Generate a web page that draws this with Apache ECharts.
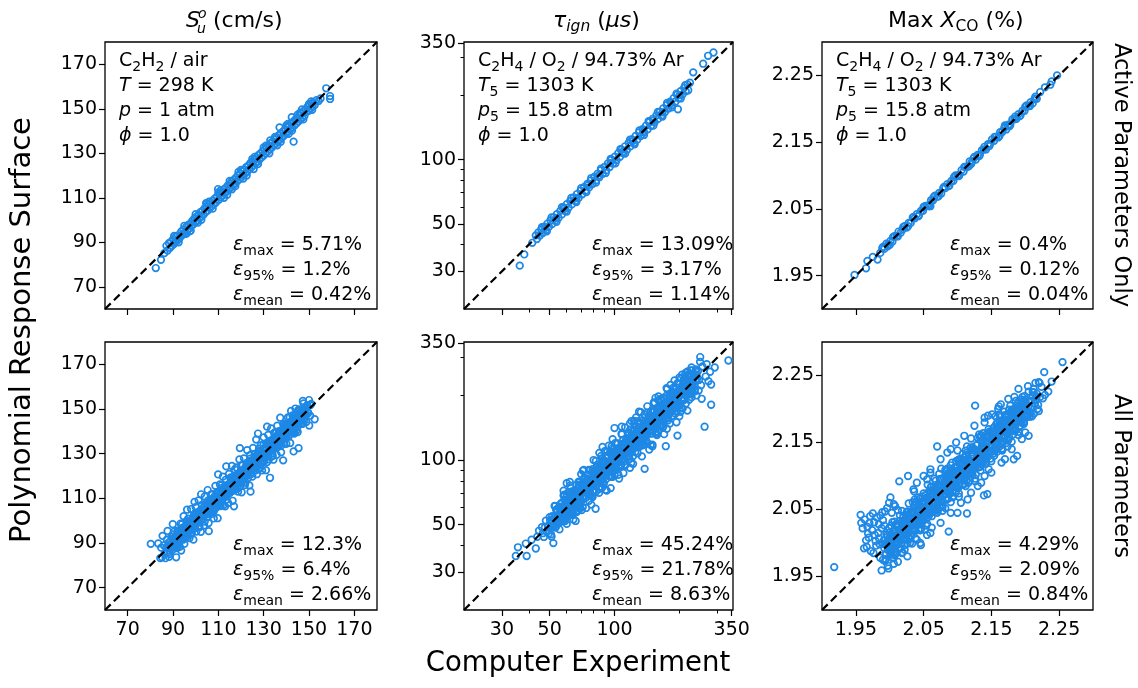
<!DOCTYPE html>
<html>
<head>
<meta charset="utf-8">
<script src="https://cdn.jsdelivr.net/npm/echarts@6/dist/echarts.min.js"></script>
<style>
html,body{margin:0;padding:0;background:#fff;}
#chart{width:1138px;height:688px;}
</style>
</head>
<body>
<div id="chart"></div>
<script>
// ---- surrogate vs. computer experiment samples ----
// laminar flame speed S_u (cm/s), active parameters only
const suActive = [
[82.4,78.4],[84.7,82.1],[86.2,85.1],[87.1,88.4],[87.6,86.3],[88.2,89.6],[88.7,87.5],[89.1,90.2],[89.5,88.4],[90.0,91.3],[90.4,89.2],[90.9,90.1],[91.3,92.6],[91.8,90.7],[92.2,93.1],[92.7,91.6],[93.1,92.2],[93.6,94.8],[94.0,93.1],[94.5,95.6],[94.9,94.2],[95.4,93.8],[95.8,96.9],[96.3,95.4],[96.7,97.8],[97.2,96.1],[97.6,98.4],[98.1,97.3],[98.5,99.6],[99.0,98.1],[99.4,100.7],[99.9,99.2],[100.3,101.4],[100.8,99.6],[101.2,102.3],[101.7,100.9],[102.1,103.5],[102.6,101.7],[103.0,104.1],[103.5,102.4],[103.9,105.2],[104.4,103.6],[104.8,106.0],[105.3,104.2],[105.7,106.9],[106.2,105.4],[106.6,107.6],[107.1,106.3],[107.5,108.7],[108.0,107.0],[108.4,109.6],[108.9,107.8],[109.3,110.4],[109.9,113.9],[110.2,109.1],[110.6,111.8],[111.1,110.2],[111.5,112.5],[112.0,111.1],[112.4,113.7],[112.9,112.0],[113.3,114.4],[113.8,112.9],[114.2,115.5],[114.7,113.8],[115.1,116.3],[115.6,114.7],[116.0,117.4],[116.5,115.6],[116.9,118.1],[117.4,116.3],[117.8,119.0],[118.3,117.4],[118.7,120.1],[119.2,118.3],[119.6,120.8],[120.1,119.2],[120.5,121.9],[121.0,120.1],[121.4,122.6],[121.9,121.0],[122.3,123.7],[122.8,121.8],[123.2,124.4],[123.7,122.9],[124.1,125.5],[124.6,123.7],[125.0,126.2],[125.5,124.6],[125.9,127.3],[126.4,125.5],[126.8,128.0],[127.3,126.2],[127.7,129.1],[128.2,127.3],[128.6,129.9],[129.1,128.2],[129.5,130.8],[130.0,129.0],[130.4,131.7],[130.9,130.0],[131.3,132.6],[131.8,130.9],[132.2,133.4],[132.7,131.8],[133.1,134.5],[133.6,132.6],[134.0,135.2],[134.5,133.6],[134.9,136.3],[135.4,134.4],[135.8,137.0],[136.3,135.3],[136.7,138.1],[137.0,141.6],[137.2,136.2],[137.6,138.9],[138.1,137.1],[138.5,139.8],[139.0,137.9],[139.4,140.6],[139.9,138.8],[140.3,141.7],[140.8,139.8],[141.2,142.3],[141.7,140.6],[142.4,146.2],[142.1,143.4],[142.6,141.5],[143.2,135.2],[143.0,144.2],[143.5,142.4],[143.9,145.1],[144.4,143.3],[144.8,146.0],[145.3,144.2],[145.7,146.9],[146.2,145.1],[146.6,147.8],[147.1,146.0],[147.5,148.9],[148.0,146.8],[148.4,149.5],[148.9,148.6],[149.3,150.8],[149.8,149.1],[150.2,151.4],[150.7,150.1],[151.1,152.3],[151.6,151.0],[152.0,152.9],[152.5,151.6],[153.3,153.9],[154.2,153.5],[157.6,159.2],[159.3,155.7],[159.3,154.4],[155.1,154.6],[151.4,149.5],[146.9,149.7],[104.6,107.6],[97.8,95.2],[118.9,121.6],[125.6,122.9],[132.9,135.8],[113.9,111.3],[140.7,143.2],
[90.5,92.8],[92.5,90.0],[95.0,97.4],[97.5,95.0],[100.0,102.6],[102.5,100.1],[105.0,107.5],[107.5,105.1],[110.0,112.4],[112.5,110.0],[115.0,117.6],[117.5,115.2],[120.0,122.5],[122.5,120.0],[125.0,127.4],[127.5,125.1],[130.0,132.6],[132.5,130.0],[135.0,137.3],[137.5,135.1],[140.0,142.5],[142.5,140.2],[145.0,147.3],[147.5,145.2],[150.0,152.2],[96.0,93.9],[106.0,108.3],[116.0,113.8],[126.0,128.4],[136.0,133.6],[146.0,148.1],[101.0,98.8],[111.0,113.3],[121.0,118.6],[131.0,133.4],[141.0,138.7],[151.0,153.3]
];
// ignition delay tau_ign (us), active parameters only
const tauActive = [
[36.3,31.9],[38.1,36.0],[43.1,44.2],[43.6,42.5],[44.3,45.6],[45.0,44.1],[45.7,47.1],[46.4,45.3],[47.2,48.6],[48.0,46.8],[48.8,50.2],[49.6,48.5],[50.4,51.9],[51.3,49.9],[52.2,53.7],[53.1,51.8],[54.0,55.6],[55.0,53.4],[56.0,57.6],[57.0,55.4],[58.0,59.8],[59.0,57.5],[60.1,61.9],[61.2,59.6],[62.3,64.1],[63.4,61.7],[64.6,66.5],[65.8,64.0],[67.0,69.0],[68.2,66.3],[69.5,71.6],[70.8,68.8],[72.1,74.3],[73.4,71.4],[74.8,77.0],[76.2,74.1],[77.6,79.9],[79.0,76.9],[80.5,82.9],[82.0,79.8],[83.5,86.0],[85.0,82.7],[86.6,89.2],[88.2,85.8],[89.8,92.5],[91.5,89.0],[93.2,96.0],[94.9,92.3],[96.7,99.6],[98.5,95.8],[100.3,103.3],[102.2,99.4],[104.1,107.2],[106.0,103.1],[108.0,111.2],[110.0,107.0],[112.1,115.4],[114.2,111.1],[116.3,119.8],[118.5,115.3],[120.7,124.3],[123.0,119.6],[125.3,129.1],[127.6,124.1],[130.0,133.9],[132.4,128.8],[134.9,138.9],[137.4,133.7],[140.0,144.2],[142.6,138.7],[145.2,149.6],[147.9,143.9],[150.7,155.2],[153.5,149.3],[156.4,161.1],[159.3,155.0],[162.3,167.2],[165.3,160.8],[168.4,173.5],[171.5,166.9],[174.7,179.9],[178.0,173.2],[181.3,186.7],[184.7,179.7],[188.2,193.8],[191.7,186.5],[195.3,201.2],[197.0,172.0],[199.0,193.6],[202.7,208.8],[206.5,200.9],[210.4,216.7],[214.3,208.5],[218.3,224.9],[220.0,211.0],[224.0,229.0],[232.0,256.0],[258.0,281.0],[272.0,306.0],[288.0,317.0],[58.5,58.9],[66.4,66.0],[75.5,75.9],[84.2,84.0],[95.8,96.2],[109.0,108.6],[121.8,122.4],[136.1,135.7],[151.6,152.3],[167.0,166.4],[183.0,183.6],[200.8,200.1],[47.6,47.9],[53.5,53.2],[41.5,40.8],
[46,48.3],[48.5,46.2],[51,53.6],[53.8,51.2],[57,59.9],[60,57.1],[63,66.2],[66.5,63.3],[70,73.5],[74,70.4],[78,82.0],[82,78.0],[86.5,90.8],[91,86.6],[96,100.8],[101,96.1],[106.5,111.8],[112,106.6],[118,123.9],[124,118.0],[130.5,137.0],[137,130.4],[144,151.2],[151.5,144.2],[159,167.0],[167,159.0],[175.5,184.3],[184.5,175.6],[194,203.7],[203,193.2],[213,223.0]
];
// maximum CO mole fraction (%), active parameters only
const xcoActive = [
[1.948,1.951],[1.965,1.961],[1.967,1.972],[1.975,1.978],[1.982,1.974],[1.986,1.984],[1.989,1.991],[1.992,1.990],[1.995,1.998],[1.998,1.997],[2.001,2.002],[2.004,2.001],[2.007,2.009],[2.010,2.009],[2.013,2.016],[2.016,2.014],[2.019,2.019],[2.022,2.024],[2.025,2.022],[2.028,2.029],[2.031,2.029],[2.034,2.037],[2.037,2.036],[2.040,2.042],[2.043,2.040],[2.046,2.047],[2.049,2.047],[2.052,2.054],[2.055,2.055],[2.058,2.055],[2.061,2.063],[2.064,2.063],[2.067,2.070],[2.070,2.068],[2.073,2.074],[2.076,2.073],[2.079,2.081],[2.082,2.081],[2.085,2.087],[2.088,2.085],[2.091,2.092],[2.094,2.092],[2.097,2.100],[2.100,2.100],[2.103,2.101],[2.106,2.108],[2.109,2.106],[2.112,2.113],[2.115,2.113],[2.118,2.121],[2.121,2.120],[2.124,2.126],[2.127,2.124],[2.130,2.131],[2.133,2.131],[2.136,2.138],[2.139,2.139],[2.142,2.139],[2.145,2.147],[2.148,2.147],[2.151,2.154],[2.154,2.152],[2.157,2.158],[2.160,2.157],[2.163,2.165],[2.166,2.165],[2.169,2.171],[2.172,2.169],[2.175,2.176],[2.178,2.176],[2.181,2.184],[2.184,2.184],[2.187,2.185],[2.190,2.192],[2.193,2.190],[2.196,2.197],[2.199,2.197],[2.202,2.205],[2.205,2.204],[2.208,2.210],[2.211,2.208],[2.214,2.215],[2.217,2.215],[2.222,2.225],[2.229,2.232],[2.237,2.236],[2.247,2.250],[2.239,2.241],[2.060,2.054],[2.000,1.996],[2.120,2.117],[2.170,2.175],
[1.990,1.993],[1.997,1.994],[2.005,2.008],[2.012,2.009],[2.020,2.023],[2.027,2.024],[2.035,2.038],[2.042,2.039],[2.050,2.053],[2.057,2.054],[2.065,2.068],[2.072,2.069],[2.080,2.083],[2.087,2.084],[2.095,2.098],[2.102,2.099],[2.110,2.113],[2.117,2.114],[2.125,2.128],[2.132,2.129],[2.140,2.143],[2.147,2.144],[2.155,2.158],[2.162,2.159],[2.170,2.173],[2.177,2.174],[2.185,2.188],[2.192,2.189],[2.200,2.203],[2.207,2.204],[2.215,2.218]
];
// laminar flame speed S_u (cm/s), all parameters
const suAll = [
[86.0,88.9],[86.3,85.3],[86.7,83.2],[87.0,88.0],[87.3,91.5],[87.7,85.6],[88.0,88.2],[88.3,83.8],[88.7,90.6],[89.0,87.5],[89.3,92.7],[89.7,86.8],[90.0,91.4],[90.3,89.8],[90.7,95.3],[91.0,88.5],[91.3,92.0],[91.7,87.7],
[92.0,95.5],[92.3,90.5],[92.7,93.3],[93.0,88.3],[93.3,98.7],[93.7,92.6],[94.0,96.5],[94.3,91.7],[94.7,102.0],[95.0,89.6],[95.3,96.9],[95.7,95.5],[96.0,99.9],[96.3,93.0],[96.7,100.9],[97.0,95.6],[97.3,92.2],[97.7,99.2],
[98.0,105.2],[98.3,94.4],[98.7,99.1],[99.0,91.5],[99.3,102.8],[99.7,97.0],[100.0,106.1],[100.3,95.1],[100.7,103.3],[101.0,100.1],[101.3,109.1],[101.7,97.1],[102.0,103.2],[102.3,95.0],[102.7,107.1],[103.0,100.8],[103.3,104.1],[103.7,97.8],[104.0,110.8],[104.3,102.9],[104.7,107.8],[105.0,101.7],[105.3,113.7],[105.7,98.9],[106.0,108.0],[106.3,106.0],[106.7,111.6],[107.0,102.9],
[107.3,111.9],[107.7,105.3],[108.0,101.0],[108.3,110.8],[108.7,115.6],[109.0,105.8],[109.3,110.4],[109.7,101.1],[110.0,112.9],[110.3,106.9],[110.7,116.2],[111.0,106.5],[111.3,114.6],[111.7,111.5],[112.0,119.7],[112.3,107.0],[112.7,113.2],[113.0,106.4],[113.3,118.3],[113.7,112.2],[114.0,115.6],[114.3,107.9],[114.7,120.9],[115.0,114.3],[115.3,119.1],[115.7,113.0],[116.0,124.5],[116.3,108.9],[116.7,118.1],[117.0,117.4],[117.3,122.9],[117.7,114.2],
[118.0,123.8],[118.3,117.1],[118.7,113.0],[119.0,120.3],[119.3,127.4],[119.7,115.3],[120.0,119.7],[120.3,112.7],[120.7,124.8],[121.0,118.9],[121.3,127.9],[121.7,115.9],[122.0,124.1],[122.3,120.7],[122.7,131.6],[123.0,119.0],[123.3,125.1],[123.7,115.8],[124.0,127.8],[124.3,121.5],[124.7,124.9],[125.0,119.7],[125.3,132.6],[125.7,123.7],[126.0,128.5],[126.3,122.4],[126.7,136.3],[127.0,120.8],[127.3,129.9],[127.7,126.9],[128.0,132.3],[128.3,123.6],
[128.7,133.7],[129.0,127.0],[129.3,122.5],[129.7,131.9],[130.0,137.3],[130.3,126.7],[130.7,131.4],[131.0,122.6],[131.3,134.5],[131.7,129.3],[132.0,138.4],[132.3,127.4],[132.7,135.6],[133.0,131.8],[133.3,141.3],[133.7,128.8],[134.0,135.5],[134.3,127.3],[134.7,139.4],[135.0,133.1],[135.3,136.4],[135.7,129.5],[136.0,142.5],[136.3,135.2],[136.7,140.1],[137.0,134.0],[137.3,146.1],[137.7,130.6],[138.0,140.3],[138.3,137.7],[138.7,143.3],[139.0,134.6],
[139.3,143.0],[139.7,137.8],[140.0,134.4],[140.3,142.3],[140.7,146.2],[141.0,138.4],[141.3,142.2],[141.7,134.8],[142.0,144.3],[142.3,139.6],[142.7,147.1],[143.0,139.4],[143.3,145.9],[143.7,143.5],[144.0,150.2],[144.3,140.1],[144.7,145.1],[145.0,139.7],[145.3,149.3],[145.7,144.5],
[146.0,149.5],[146.4,145.7],[146.8,143.4],[147.2,148.0],[147.6,152.5],[148.0,145.4],[148.4,148.2],[148.8,144.2],[149.2,151.7],[149.6,148.3],[150.0,154.0],[150.5,147.0],[151.0,152.3],
[80.2,89.6],[84.4,83.2],[85.1,83.6],[93.6,86.6],[85.4,93.2],[87.6,95.4],[89.9,98.4],[83.5,89.8],[84.8,87.9],[102.4,111.8],[109.9,120.7],[99.5,108.4],[119.5,132.5],[132.8,119.2],[142.1,149.1],[145.4,132.5],[143.2,131.0],[147.3,153.6],[150.6,151.8],[152.5,145.4],[150.1,142.6],[127.5,139.0],[113.5,124.3],[124.2,113.0],[138.6,127.0],[105.8,95.3],[96.2,104.9],[91.4,83.6],[116.9,106.4],[131.5,142.1],
[92.5,93.3],[93.8,92.7],[95.1,96.7],[96.4,96.0],[97.7,98.9],[99.0,97.7],[100.4,101.9],[101.7,101.3],[103.0,103.8],[104.3,103.2],[105.7,107.3],[107.0,106.6],[108.3,109.5],[109.6,108.5],[111.0,112.6],[112.3,111.9],[113.6,114.4],[114.9,113.8],[116.3,117.9],[117.6,117.2],[118.9,120.1],[120.2,119.1],[121.6,123.2],[122.9,122.5],[124.2,125.0],[125.5,124.4],[126.9,128.5],[128.2,127.8],[129.5,130.7],[130.8,129.7],[132.2,133.8],[133.5,133.1],[134.8,135.6],[136.1,135.0],[137.5,139.1],[138.8,138.4],[140.1,141.3],[141.4,140.3],[142.8,144.0],[144.1,143.7],[145.4,146.2],
[88.0,90.1],[88.5,85.1],[89.0,89.6],[89.5,88.3],[90.0,93.9],[90.5,87.9],[91.0,92.4],[91.5,91.2],[92.0,87.9],[92.5,95.3],[93.0,91.2],[93.5,94.4],[94.0,98.4],[94.5,91.5],[95.0,95.2],[95.5,94.0],[96.0,99.2],[96.5,94.3],[97.0,98.7],[97.5,93.7],[98.0,98.5],[98.5,101.0],[99.0,98.2],[99.5,96.6],[100.0,103.6],[100.5,99.4],[101.0,102.1],[101.5,97.1],[102.0,104.3],[102.5,102.0],
[103.0,102.5],[103.5,105.8],[104.0,99.6],[104.5,105.6],[105.0,103.9],[105.5,109.1],[106.0,103.1],[106.5,105.7],[107.0,109.5],[107.5,108.0],[108.0,104.2],[108.5,110.2],[109.0,106.8],[109.5,112.7],[110.0,108.5],[110.5,110.7],[111.0,108.0],[111.5,115.9],[112.0,112.9],[112.5,110.7],[113.0,115.8],[113.5,109.4],[114.0,113.7],[114.5,115.9],[115.0,112.4],[115.5,119.4],[116.0,114.8],[116.5,117.1],[117.0,113.6],[117.5,119.6],
[118.0,120.5],[118.5,114.4],[119.0,119.7],[119.5,118.1],[120.0,124.7],[120.5,117.4],[121.0,122.7],[121.5,121.1],[122.0,117.1],[122.5,125.9],[123.0,120.8],[123.5,124.6],[124.0,129.3],[124.5,120.9],[125.0,125.2],[125.5,123.7],[126.0,129.8],[126.5,123.9],[127.0,129.0],[127.5,122.9],[128.0,128.6],[128.5,131.5],[129.0,128.0],[129.5,126.0],[130.0,134.3],[130.5,129.2],[131.0,132.3],[131.5,126.2],[132.0,134.8],[132.5,131.9],
[133.0,132.4],[133.5,136.0],[134.0,129.2],[134.5,135.7],[135.0,133.8],[135.5,139.5],[136.0,132.8],[136.5,135.6],[137.0,139.8],[137.5,138.1],[138.0,133.8],[138.5,140.4],[139.0,136.6],[139.5,143.0],[140.0,138.3],[140.5,140.7],[141.0,137.7],[141.5,146.3],[142.0,143.0],[142.5,140.5],[143.0,146.1],[143.5,139.0],[144.0,143.7],[144.5,146.0],[145.0,142.1],[145.5,149.8],[146.0,144.7],[146.5,147.2],[147.0,143.3],[147.5,149.8],
[89.3,88.0],[89.8,92.0],[90.3,89.9],[90.8,91.8],[91.3,88.9],[91.8,92.1],[92.3,94.1],[92.8,90.9],[93.3,94.0],[93.8,92.9],[94.3,96.9],[94.8,92.7],[95.3,95.4],[95.8,97.2],[96.3,94.7],
[96.8,95.5],[97.3,99.5],[97.8,97.4],[98.3,99.3],[98.8,96.4],[99.3,99.6],[99.8,101.6],[100.3,98.4],[100.8,101.5],[101.3,100.4],[101.8,104.4],[102.3,100.2],[102.8,102.9],[103.3,104.7],[103.8,102.2],
[104.3,103.0],[104.8,107.0],[105.3,104.9],[105.8,106.8],[106.3,103.9],[106.8,107.1],[107.3,109.1],[107.8,105.9],[108.3,109.0],[108.8,107.9],[109.3,111.9],[109.8,107.7],[110.3,110.4],[110.8,112.2],[111.3,109.7],
[111.8,110.5],[112.3,114.5],[112.8,112.4],[113.3,114.3],[113.8,111.4],[114.3,114.6],[114.8,116.6],[115.3,113.4],[115.8,116.5],[116.3,115.4],[116.8,119.4],[117.3,115.2],[117.8,117.9],[118.3,119.7],[118.8,117.2],
[119.3,118.0],[119.8,122.0],[120.3,119.9],[120.8,121.8],[121.3,118.9],[121.8,122.1],[122.3,124.1],[122.8,120.9],[123.3,124.0],[123.8,122.9],[124.3,126.9],[124.8,122.7],[125.3,125.4],[125.8,127.2],[126.3,124.7],
[126.8,125.5],[127.3,129.5],[127.8,127.4],[128.3,129.3],[128.8,126.4],[129.3,129.6],[129.8,131.6],[130.3,128.4],[130.8,131.5],[131.3,130.4],[131.8,134.4],[132.3,130.2],[132.8,132.9],[133.3,134.7],[133.8,132.2],
[134.3,133.0],[134.8,137.0],[135.3,134.9],[135.8,136.8],[136.3,133.9],[136.8,137.1],[137.3,139.1],[137.8,135.9],[138.3,139.0],[138.8,137.9],[139.3,141.9],[139.8,137.7],[140.3,140.4],[140.8,142.2],[141.3,139.7],
[141.8,140.5],[142.3,144.5],[142.8,142.4],[143.3,144.3],[143.8,141.4],[144.3,144.6],[144.8,146.6],[145.3,143.4],[145.8,146.5],[146.3,145.4],[146.8,149.4],[147.3,145.2],[147.8,147.9],[148.3,149.7],[148.8,147.2],
[90.4,91.6],[91.1,88.8],[91.9,94.7],[92.6,92.0],[93.4,93.7],[94.1,92.4],[94.9,97.0],[95.6,92.7],[96.4,98.0],[97.1,96.1],[97.9,98.6],[98.6,96.1],[99.4,101.8],[100.1,99.9],[100.9,102.8],[101.6,100.2],
[102.4,103.6],[103.1,100.8],[103.9,106.7],[104.6,104.0],[105.4,105.7],[106.1,104.4],[106.9,109.0],[107.6,104.7],[108.4,110.0],[109.1,108.1],[109.9,110.6],[110.6,108.1],[111.4,113.8],[112.1,111.9],[112.9,114.8],[113.6,112.2],
[114.4,115.6],[115.1,112.8],[115.9,118.7],[116.6,116.0],[117.4,117.7],[118.1,116.4],[118.9,121.0],[119.6,116.7],[120.4,122.0],[121.1,120.1],[121.9,122.6],[122.6,120.1],[123.4,125.8],[124.1,123.9],[124.9,126.8],[125.6,124.2],
[126.4,127.6],[127.1,124.8],[127.9,130.7],[128.6,128.0],[129.4,129.7],[130.1,128.4],[130.9,133.0],[131.6,128.7],[132.4,134.0],[133.1,132.1],[133.9,134.6],[134.6,132.1],[135.4,137.8],[136.1,135.9],[136.9,138.8],[137.6,136.2],
[138.4,139.6],[139.1,136.8],[139.9,142.7],[140.6,140.0],[141.4,141.7],[142.1,140.4],[142.9,145.0],[143.6,140.7],[144.4,146.0],[145.1,144.1],[145.9,146.6],[146.6,144.1],[147.4,149.8],[148.1,147.9],[148.9,150.8],[149.6,148.2]
];
// ignition delay tau_ign (us), all parameters
const tauAll = [
[46,48.7],[46.5,45.6],[47,43.8],[47.5,48.5],[48,52.2],[48.5,46.5],[49.1,49.3],[49.6,45.4],[50.2,52.2],[50.7,49.2],[51.3,54.8],[51.8,48.9],[52.4,53.9],[53,52.5],[53.6,58.7],[54.2,51.5],[54.8,55.5],[55.4,51.1],[56,60.2],[56.6,54.6],[57.2,57.9],[57.8,52.5],[58.5,65.4],[59.1,57.7],[59.8,62.9],[60.4,57.2],[61.1,70.9],[61.7,55.2],[62.4,64.5],[63.1,62.8],[63.8,69.2],[64.5,60.3],
[65.2,70.4],[65.9,63.3],[66.7,57.2],[67.4,71.2],[68.1,79.2],[68.9,64.2],[69.6,71.3],[70.4,58.4],[71.2,75.8],[72,66.8],[72.8,82.1],[73.6,66.7],[74.4,80.0],[75.2,74.9],[76,90.0],[76.9,68.4],[77.7,78.6],[78.6,68.1],[79.5,88.6],[80.3,77.7],[81.2,84.1],[82.1,71.3],[83,95.0],[84,82.7],[84.9,92.3],[85.8,80.9],[86.8,104.6],[87.7,74.5],[88.7,91.4],[89.7,90.5],[90.7,102.5],[91.7,84.9],
[92.7,105.2],[93.7,91.3],[94.8,83.7],[95.8,98.6],[96.9,115.7],[98,89.0],[99,98.3],[100.1,84.8],[101.2,110.7],[102.4,97.8],[103.5,119.5],[104.6,92.2],[105.8,110.8],[107,103.4],[108.2,131.5],[109.4,100.2],[110.6,115.0],[111.8,94.0],[113,122.8],[114.3,107.6],[115.6,116.1],[116.8,104.0],[118.1,138.5],[119.4,114.3],[120.8,127.6],[122.1,112.1],[123.4,152.3],[124.8,109.0],[126.2,133.6],[127.6,125.4],[129,141.8],[130.4,117.6],
[131.9,147.9],[133.3,128.1],[134.8,117.1],[136.3,142.0],[137.8,162.7],[139.3,127.9],[140.9,142.2],[142.4,119.3],[144,155.5],[145.6,137.3],[147.2,168.2],[148.8,132.7],[150.5,159.4],[152.1,149.2],[153.8,184.4],[155.5,140.6],[157.2,161.4],[159,135.5],[160.7,176.9],[162.5,154.9],[164.3,167.3],[166.1,146.0],[168,194.9],[169.8,164.7],[171.7,183.7],[173.6,161.4],[175.5,214.1],[177.5,153.0],[179.4,187.5],[181.4,180.1],[183.4,204.1],[185.5,169.5],
[187.5,207.4],[189.6,179.9],[191.7,164.5],[193.8,204.7],[196,228.0],[198.1,184.6],[200.3,205.1],[202.5,167.9],[204.8,218.1],[207,192.1],[209.3,236.1],[211.6,191.7],[214,230.1],[216.3,215.4],[218.7,258.9],[221.1,202.5],[223.6,225.4],[226.1,203.0],[228.6,248.0],[231.1,225.6],[233.6,239.9],[236.2,212.6],[238.8,264.3],[241.5,238.8],[244.1,260.0],[246.8,236.2],[249.6,287.0],[252.3,223.3],
[55.1,60.3],[56.3,55.3],[57.5,52.8],[58.8,60.0],[60.1,68.0],[61.4,57.4],[62.7,62.4],[64.1,57.0],[65.5,69.8],[67,64.9],[68.5,75.8],[70,64.1],[71.6,74.0],[73.2,71.4],[74.8,85.7],[76.5,72.0],[78.2,80.4],[79.9,70.8],[81.7,86.7],[83.5,80.0],[85.4,85.7],[87.2,80.4],[89.2,99.7],[91.2,88.5],[93.2,96.8],[95.3,89.8],[97.4,112.8],[99.5,90.4],[101.8,106.0],[104,102.8],[106.4,113.6],[108.8,101.2],[111.2,120.4],[113.7,110.5],[116.2,105.3],[118.8,122.2],[121.4,136.5],[124.1,116.9],[126.9,127.7],[129.7,114.7],[132.6,139.9],[135.5,130.1],[138.6,152.2],[141.6,130.7],[144.8,150.7],[148,146.1],[151.3,171.7],[154.7,144.2],[158.1,161.1],[161.6,144.5],[165.2,176.8],[168.9,163.3],[172.6,174.8],[176.5,161.3],[180.4,200.2],[184.4,180.5],[188.5,197.7],[192.7,183.3],[197,226.4],[201.4,181.7],[205.9,212.5],[210.5,209.4],[215.2,232.0],[220,206.8],[224.9,236.1],[229.9,220.7],
[56,59.2],[58.1,56.5],[60.8,56.1],[63.4,65.4],[66.2,72.2],[69.2,66.6],[72.4,73.3],[75.6,68.5],[79.1,81.9],[82.6,79.3],[86.3,92.3],[90.2,85.5],[94.3,98.2],[98.6,98.4],[103,113.4],[107.6,101.1],[112.5,113.2],[117.5,108.8],[122.8,130.5],[128.4,126.1],[134.1,136.8],[140.2,130.1],[146.5,158.2],[153.1,151.9],[160,167.7],[167.2,161.9],[174.7,194.4],[182.6,167.4],[190.8,194.0],[199.4,200.4],[208.4,223.4],[217.8,208.9],
[57,54.8],[59.5,62.5],[62,61.8],[64.8,66.1],[67.7,63.5],[70.8,77.8],[74,71.7],[77.3,79.8],[80.8,79.7],[84.5,90.6],[88.3,83.5],[92.2,92.9],[96.4,94.4],[100.7,105.2],[105.3,98.2],[110,111.3],[115,110.1],[120.1,130.9],[125.6,124.5],[131.2,134.7],[137.1,130.4],[143.3,152.5],[149.8,145.9],[156.5,162.1],[163.5,151.6],[170.9,171.6],[178.6,172.0],[186.6,201.7],[195,198.7],[203.8,191.8],[213,209.2],[222.6,234.6],
[50,54.2],[50.7,45.0],[51.3,52.7],[52,49.6],[52.7,61.1],[53.4,48.9],[54.1,57.2],[54.8,53.9],[55.5,47.5],[56.2,62.5],[57,53.3],[57.7,59.7],[58.5,69.0],[59.3,53.0],[60,60.4],[60.8,57.4],[61.6,69.6],[62.4,57.4],[63.3,67.5],[64.1,55.6],[65,66.2],[65.8,72.3],[66.7,64.8],[67.6,60.6],[68.5,78.5],[69.4,66.6],[70.3,73.3],[71.2,60.3],[72.2,78.8],[73.1,71.8],
[74.1,72.8],[75.1,81.9],[76.1,64.5],[77.1,80.3],[78.1,74.9],[79.1,90.6],[80.1,71.8],[81.2,78.8],[82.3,90.4],[83.4,85.0],[84.5,73.3],[85.6,91.3],[86.7,79.8],[87.9,99.3],[89,84.0],[90.2,90.8],[91.4,81.6],[92.6,109.3],[93.8,97.1],[95,88.8],[96.3,107.1],[97.6,83.4],[98.9,97.3],[100.2,105.9],[101.5,93.0],[102.8,119.1],[104.2,99.3],[105.6,108.6],[107,94.9],[108.4,117.5],
[109.8,119.0],[111.3,98.7],[112.7,115.9],[114.2,108.8],[115.7,134.1],[117.3,107.4],[118.8,125.6],[120.4,118.5],[122,104.3],[123.6,137.4],[125.2,117.1],[126.9,131.3],[128.6,151.7],[130.3,116.4],[132,132.9],[133.7,126.2],[135.5,153.1],[137.3,126.3],[139.1,148.4],[140.9,122.2],[142.8,145.5],[144.7,159.0],[146.6,142.3],[148.5,133.2],[150.5,172.5],[152.5,146.2],[154.5,161.0],[156.5,132.6],[158.6,173.0],[160.7,157.8],
[162.8,159.9],[164.9,179.9],[167.1,141.5],[169.3,176.4],[171.6,164.6],[173.8,199.2],[176.1,158.0],[178.5,173.3],[180.8,198.7],[183.2,186.7],[185.6,160.9],[188.1,200.7],[190.6,175.4],[193.1,218.2],[195.6,184.6],[198.2,199.6],[200.8,179.3],[203.5,240.1],[206.2,213.4],[208.9,195.3],[211.7,235.4],[214.5,183.4],[217.3,213.8],[220.2,232.7],[223.1,204.4],[226,261.9],[229,218.2],[232,238.5],[235.1,208.5],[238.2,258.2],
[55.1,55.1],[53.2,48.4],[54.4,55.5],[55.6,53.4],[56.9,63.2],[58.2,54.1],[59.5,61.9],[60.9,60.3],[62.3,55.4],[63.7,68.8],[65.2,61.9],[66.7,68.7],[68.2,76.4],[69.8,64.2],[71.4,71.4],[73,70.8],[74.7,81.4],[76.4,71.8],[78.2,82.1],[80,72.0],[81.8,82.6],[83.7,89.6],[85.6,83.9],[87.6,80.6],[89.6,98.6],[91.7,88.9],[93.8,96.6],[95.9,84.4],[98.1,104.0],[100.4,99.4],
[102.7,101.7],[105.1,111.4],[107.5,94.6],[110,113.3],[112.5,109.1],[115.1,126.6],[117.7,108.3],[120.4,118.0],[123.2,131.8],[126,127.3],[128.9,116.0],[131.9,138.5],[134.9,126.8],[138,150.4],[141.2,137.0],[144.4,144.4],[147.7,135.9],[151.1,169.2],[154.6,159.2],[158.2,150.3],[161.8,174.7],[165.5,147.3],[169.3,167.6],[173.2,180.1],[177.2,164.8],[181.3,201.2],[185.5,178.1],[189.8,193.6],[194.2,176.7],[198.7,210.6],
[203.3,215.5],[208,189.3],[212.8,217.1],[217.7,209.0],[222.7,247.2],[227.8,211.9],[233,242.3],[238.4,236.0],
[52.6,51.0],[53.8,58.6],[55,51.7],[56.2,59.0],[57.5,51.8],[58.9,59.5],[60.2,64.4],[61.6,60.4],[63,58.0],[64.4,70.8],[65.9,63.9],[67.5,69.5],[69,60.7],[70.6,74.8],[72.2,71.5],[73.8,78.2],[75.6,68.8],[77.3,78.8],[79.1,75.9],[80.9,89.8],[82.7,76.9],[84.7,88.1],[86.6,85.7],[88.6,78.9],[90.6,97.8],[92.8,88.2],[94.9,97.7],[97,108.6],[99.2,91.3],[101.6,101.6],
[103.9,102.9],[106.3,94.6],[108.7,117.4],[111.3,105.7],[113.8,117.2],[116.4,130.4],[119.1,109.6],[121.8,121.8],[124.6,120.9],[127.4,138.9],[130.4,122.6],[133.4,140.1],[136.5,122.9],[139.6,141.0],[142.8,152.8],[146.1,143.2],[149.4,137.4],[152.8,168.1],[156.4,151.7],[160,164.8],[163.7,144.1],[167.4,177.4],[171.2,169.5],[175.2,185.7],[179.2,163.1],[183.4,187.1],[187.6,180.1],[192,213.1],[196.4,182.7],[201,209.0],
[205.6,217.9],[210.4,191.5],[215.2,219.5],[220.2,211.4],[225.3,243.3],[230.4,216.6],
[53,54.6],[55,52.3],[57.2,57.8],[59.6,58.4],[62,65.7],[64.5,61.9],[67.1,68.4],[69.8,69.8],[72.6,68.2],[75.5,78.5],[78.5,76.1],[81.6,85.7],[84.9,84.1],[88.3,83.9],[91.8,94.6],[95.5,96.5],[99.3,95.3],[103.3,109.5],[107.4,105.3],[111.7,105.0],[116.2,118.5],[120.8,125.6],[125.6,121.8],[130.6,137.1],[135.8,129.0],[141.2,141.2],[146.9,151.3],[152.8,146.7],[158.9,160.5],[165.2,175.1],[171.8,168.4],[178.7,168.0],[185.8,193.2],[193.2,191.3],[201,205.0],[209,202.7],[217.3,228.2],
[54,50.2],[56.1,60.6],[58.4,57.2],[60.8,63.8],[63.2,57.5],[65.8,67.8],[68.4,65.0],[71.2,77.6],[74,74.7],[77,70.8],[80,84.8],[83.2,79.9],[86.6,92.7],[90,89.1],[93.6,88.0],[97.4,101.3],[101.3,92.2],[105.3,107.4],[109.5,118.3],[113.9,110.5],[118.5,124.4],[123.2,114.6],[128.1,139.6],[133.2,130.5],[138.5,131.6],[144.1,152.7],[149.9,137.9],[155.9,160.6],[162.1,163.7],[168.6,158.5],[175.3,187.6],[182.3,176.8],[189.6,197.2],[197.2,179.5],[205.1,221.5],[213.3,204.8],[221.8,226.2],
[58,68.4],[60,50.4],[62.2,75.9],[64.4,52.8],[66.6,76.6],[68.9,59.3],[71.3,89.1],[73.8,59.8],[76.4,89.4],[79.1,67.2],[81.9,99.1],[84.7,70.3],[87.7,101.7],[90.8,72.6],[94,116.6],[97.3,84.7],[100.7,119.8],[104.2,85.4],[107.8,132.6],[111.6,94.9],[115.5,132.8],[119.5,96.8],[123.7,148.4],[128,107.5],[132.5,167.0],[137.2,118.0],[142,166.1],[147,117.6],[152.1,185.6],[157.4,130.6],[162.9,192.2],[168.6,143.3],[174.5,216.4],[180.6,148.1],[187,216.9],[193.5,168.3],[200.3,242.4],[207.3,174.1],[214.5,255.3],[222,190.9],
[59,51.9],[63.3,71.5],[67.7,58.2],[72.5,82.7],[77.7,69.2],[83.3,93.3],[89.2,77.6],[95.6,109.9],[102.4,90.1],[109.7,124.0],[117.5,101.1],[125.9,143.5],[134.8,120.0],[144.5,161.8],[154.7,134.6],[165.8,190.7],[177.6,156.3],[190.2,214.9],[203.8,175.3],[218.3,248.9],
[62,79],[66,52],[72,90],[78,62],[85,108],[92,72],[98,125],[105,82],[112,142],[118,92],[126,158],[134,104],[142,178],[150,116],[160,198],[170,132],[182,224],[194,150],[206,250],[218,170],[88,115],[96,74],[130,168],[145,112],[175,140],[110,87],[80,100],[58,72],[52,41],[228,270],[200,160],[120,152],[155,195],[190,235],[240,200],
[34.8,35.7],[35.6,39.2],[38.7,40.8],[39.1,35.7],[43.1,38.7],[43.8,43.9],[41.2,42.5],[44.6,46.8],[250,302],[338,291],[256,273],[278,258],[212,248],[273,233],[281,225],[254,193],[281,181],[262,143],[196,130],[173,116],[138,91],[100,141],[108,143],[81.7,59.3],[122,96],[60,78],[70,86],[150,118],[230,262],[240,250],[265,245],[268,280],[292,270],[246,211],[228,196],[53,61],[51,44],[90,110],[160,190],[118,148]
];
// maximum CO mole fraction (%), all parameters
const xcoAll = [
[1.984,2.007],[1.986,1.978],[1.988,1.959],[1.990,1.999],[1.992,2.026],[1.994,1.976],[1.996,1.998],[1.998,1.962],[2.000,2.016],[2.002,1.990],[2.004,2.031],[2.006,1.983],[2.008,2.020],[2.010,2.006],[2.012,2.049],[2.014,1.993],[2.016,2.021],[2.018,1.985],[2.020,2.040],[2.022,2.012],[2.024,2.028],[2.026,1.999],[2.028,2.059],[2.030,2.024],[2.032,2.046],[2.034,2.019],[2.036,2.077],[2.038,2.007],[2.040,2.049],[2.042,2.041],[2.044,2.066],[2.046,2.028],
[2.048,2.069],[2.050,2.039],[2.052,2.020],[2.054,2.065],[2.056,2.087],[2.058,2.044],[2.060,2.065],[2.062,2.023],[2.064,2.077],[2.066,2.051],[2.068,2.093],[2.070,2.050],[2.072,2.087],[2.074,2.073],[2.076,2.111],[2.078,2.054],[2.080,2.082],[2.082,2.052],[2.084,2.107],[2.086,2.079],[2.088,2.095],[2.090,2.061],[2.092,2.120],[2.094,2.091],[2.096,2.113],[2.098,2.086],[2.100,2.138],[2.102,2.069],[2.104,2.110],[2.106,2.108],[2.108,2.133],[2.110,2.094],
[2.112,2.138],[2.114,2.109],[2.116,2.090],[2.118,2.124],[2.120,2.156],[2.122,2.102],[2.124,2.123],[2.126,2.092],[2.128,2.146],[2.130,2.121],[2.132,2.162],[2.134,2.108],[2.136,2.145],[2.138,2.131],[2.140,2.180],[2.142,2.124],[2.144,2.152],[2.146,2.110],[2.148,2.165],[2.150,2.137],[2.152,2.153],[2.154,2.130],[2.156,2.189],[2.158,2.149],[2.160,2.171],[2.162,2.144],[2.164,2.207],[2.166,2.138],[2.168,2.180],[2.170,2.166],[2.172,2.191],[2.174,2.153],
[2.176,2.199],[2.178,2.170],[2.180,2.151],[2.182,2.191],[2.184,2.218],[2.186,2.168],[2.188,2.190],[2.190,2.161],[2.192,2.205],[2.194,2.184],[2.196,2.218],[2.198,2.180],[2.200,2.210],[2.202,2.199],[2.204,2.234],[2.206,2.189],[2.208,2.212],[2.210,2.189],[2.212,2.225],[2.214,2.208],[2.216,2.219],[2.218,2.200],[2.220,2.240],[2.222,2.218],[2.224,2.233],[2.226,2.216],[2.228,2.255],
[1.995,2.013],[1.998,1.994],[2.001,1.983],[2.004,2.008],[2.007,2.032],[2.010,1.996],[2.013,2.012],[2.016,1.992],[2.019,2.032],[2.022,2.016],[2.025,2.046],[2.028,2.010],[2.031,2.037],[2.034,2.029],[2.037,2.065],[2.040,2.027],[2.043,2.049],[2.046,2.021],[2.049,2.061],[2.052,2.043],[2.055,2.056],[2.058,2.041],[2.061,2.084],[2.064,2.058],[2.067,2.075],[2.070,2.057],[2.073,2.103],[2.076,2.056],[2.079,2.087],[2.082,2.079],[2.085,2.098],[2.088,2.073],
[2.091,2.106],[2.094,2.086],[2.097,2.075],[2.100,2.108],[2.103,2.125],[2.106,2.096],[2.109,2.113],[2.112,2.085],[2.115,2.124],[2.118,2.107],[2.121,2.139],[2.124,2.110],[2.127,2.138],[2.130,2.129],[2.133,2.158],[2.136,2.119],[2.139,2.140],[2.142,2.121],[2.145,2.161],[2.148,2.143],[2.151,2.156],[2.154,2.134],[2.157,2.177],[2.160,2.158],[2.163,2.175],[2.166,2.158],[2.169,2.196],[2.172,2.149],[2.175,2.179],[2.178,2.179],[2.181,2.199],[2.184,2.173],
[2.187,2.205],[2.190,2.186],[2.193,2.175],[2.196,2.200],[2.199,2.219],[2.202,2.188],[2.205,2.204],[2.208,2.194],[2.211,2.219],[2.214,2.208],
[1.9965,2.0085],[1.9995,1.9955],[2.0025,1.9875],[2.0055,2.0105],[2.0085,2.0255],[2.0115,2.0025],[2.0145,2.0155],[2.0175,1.9995],[2.0205,2.0285],[2.0235,2.0175],[2.0265,2.0405],[2.0295,2.0175],[2.0325,2.0385],[2.0355,2.0335],[2.0385,2.0575],[2.0415,2.0305],[2.0445,2.0475],[2.0475,2.0305],[2.0505,2.0605],[2.0535,2.0485],[2.0565,2.0585],[2.0595,2.0455],[2.0625,2.0785],[2.0655,2.0625],[2.0685,2.0755],[2.0715,2.0635],[2.0745,2.0955],[2.0775,2.0615],[2.0805,2.0855],[2.0835,2.0825],[2.0865,2.0975],[2.0895,2.0805],
[2.0925,2.1035],[2.0955,2.0895],[2.0985,2.0825],[2.1015,2.1075],[2.1045,2.1205],[2.1075,2.1005],[2.1105,2.1135],[2.1135,2.0935],[2.1165,2.1235],[2.1195,2.1115],[2.1225,2.1355],[2.1255,2.1155],[2.1285,2.1365],[2.1315,2.1305],[2.1345,2.1525],[2.1375,2.1255],[2.1405,2.1415],[2.1435,2.1285],[2.1465,2.1585],[2.1495,2.1455],[2.1525,2.1565],[2.1555,2.1405],[2.1585,2.1725],[2.1615,2.1595],[2.1645,2.1735],[2.1675,2.1615],[2.1705,2.1895],[2.1735,2.1565],[2.1765,2.1795],[2.1795,2.1805],[2.1825,2.1955],[2.1855,2.1775],
[2.1885,2.2005],[2.1915,2.1875],[2.1945,2.1825],[2.1975,2.2025],[2.2005,2.2105],[2.2035,2.1965],
[1.991,2.004],[1.993,1.973],[1.995,1.999],[1.997,1.990],[1.999,2.022],[2.001,1.985],[2.003,2.011],[2.005,2.003],[2.007,1.982],[2.009,2.026],[2.011,2.000],[2.013,2.018],[2.015,2.041],[2.017,1.999],[2.019,2.020],[2.021,2.012],[2.023,2.042],[2.025,2.012],[2.027,2.037],[2.029,2.006],[2.031,2.034],[2.033,2.048],[2.035,2.030],[2.037,2.020],[2.039,2.061],[2.041,2.034],[2.043,2.050],[2.045,2.019],[2.047,2.061],[2.049,2.046],
[2.051,2.048],[2.053,2.067],[2.055,2.029],[2.057,2.064],[2.059,2.052],[2.061,2.083],[2.063,2.046],[2.065,2.060],[2.067,2.082],[2.069,2.072],[2.071,2.048],[2.073,2.083],[2.075,2.062],[2.077,2.096],[2.079,2.070],[2.081,2.082],[2.083,2.065],[2.085,2.111],[2.087,2.092],[2.089,2.078],[2.091,2.108],[2.093,2.068],[2.095,2.093],[2.097,2.105],[2.099,2.083],[2.101,2.124],[2.103,2.096],[2.105,2.109],[2.107,2.087],[2.109,2.122],
[2.111,2.124],[2.113,2.093],[2.115,2.119],[2.117,2.110],[2.119,2.142],[2.121,2.105],[2.123,2.131],[2.125,2.123],[2.127,2.102],[2.129,2.146],[2.131,2.120],[2.133,2.138],[2.135,2.161],[2.137,2.119],[2.139,2.140],[2.141,2.132],[2.143,2.162],[2.145,2.132],[2.147,2.157],[2.149,2.126],[2.151,2.154],[2.153,2.168],[2.155,2.150],[2.157,2.140],[2.159,2.181],[2.161,2.154],[2.163,2.170],[2.165,2.139],[2.167,2.181],[2.169,2.166],
[2.171,2.169],[2.173,2.184],[2.175,2.154],[2.177,2.183],[2.179,2.173],[2.181,2.199],[2.183,2.169],[2.185,2.181],[2.187,2.199],[2.189,2.191],[2.191,2.173],[2.193,2.201],[2.195,2.185],[2.197,2.212],[2.199,2.192],[2.201,2.202],[2.203,2.189],[2.205,2.226],[2.207,2.211],[2.209,2.200],[2.211,2.225],[2.213,2.193],[2.215,2.213],[2.217,2.223],[2.219,2.206],[2.221,2.239],
[1.9925,1.9985],[1.9945,1.9835],[1.9965,2.0115],[1.9985,1.9955],[2.0005,2.0095],[2.0025,1.9855],[2.0045,2.0055],[2.0065,2.0185],[2.0085,2.0015],[2.0105,2.0285],[2.0125,1.9985],[2.0145,2.0185],[2.0165,2.0075],[2.0185,2.0315],[2.0205,2.0195],[2.0225,2.0305],[2.0245,2.0055],[2.0265,2.0425],[2.0285,2.0235],[2.0305,2.0405],[2.0325,2.0205],[2.0345,2.0365],[2.0365,2.0555],[2.0385,2.0305],[2.0405,2.0455],[2.0425,2.0275],[2.0445,2.0555],[2.0465,2.0445],[2.0485,2.0625],[2.0505,2.0405],[2.0525,2.0595],[2.0545,2.0365],[2.0565,2.0595],[2.0585,2.0525],[2.0605,2.0775],[2.0625,2.0495],[2.0645,2.0735],[2.0665,2.0625],
[2.0685,2.0745],[2.0705,2.0595],[2.0725,2.0875],[2.0745,2.0715],[2.0765,2.0855],[2.0785,2.0615],[2.0805,2.0815],[2.0825,2.0945],[2.0845,2.0775],[2.0865,2.1045],[2.0885,2.0745],[2.0905,2.0945],[2.0925,2.0835],[2.0945,2.1075],[2.0965,2.0955],[2.0985,2.1065],[2.1005,2.0815],[2.1025,2.1185],[2.1045,2.0995],[2.1065,2.1165],[2.1085,2.0965],[2.1105,2.1125],[2.1125,2.1315],[2.1145,2.1065],[2.1165,2.1215],[2.1185,2.1035],[2.1205,2.1315],[2.1225,2.1205],[2.1245,2.1385],[2.1265,2.1165],[2.1285,2.1355],[2.1305,2.1125],[2.1325,2.1355],[2.1345,2.1285],[2.1365,2.1535],[2.1385,2.1255],[2.1405,2.1495],[2.1425,2.1385],
[2.1445,2.1505],[2.1465,2.1355],[2.1485,2.1635],[2.1505,2.1475],[2.1525,2.1615],[2.1545,2.1375],[2.1565,2.1575],[2.1585,2.1705],[2.1605,2.1535],[2.1625,2.1805],[2.1645,2.1505],[2.1665,2.1705],[2.1685,2.1595],[2.1705,2.1835],[2.1725,2.1715],[2.1745,2.1825],[2.1765,2.1575],[2.1785,2.1945],[2.1805,2.1755],[2.1825,2.1925],[2.1845,2.1725],[2.1865,2.1885],[2.1885,2.2075],[2.1905,2.1825],[2.1925,2.1975],[2.1945,2.1795],[2.1965,2.2075],[2.1985,2.1965],[2.2005,2.2145],[2.2025,2.1925],[2.2045,2.2115],[2.2065,2.1885],[2.2085,2.2115],[2.2105,2.2045],[2.2125,2.2295],
[2.0000,2.0040],[2.0025,1.9935],[2.0050,2.0180],[2.0075,1.9905],[2.0100,2.0160],[2.0125,2.0095],[2.0150,2.0330],[2.0175,2.0105],[2.0200,2.0300],[2.0225,2.0085],[2.0250,2.0270],[2.0275,2.0165],[2.0300,2.0450],[2.0325,2.0275],[2.0350,2.0430],[2.0375,2.0185],[2.0400,2.0380],[2.0425,2.0545],[2.0450,2.0350],[2.0475,2.0525],[2.0500,2.0340],[2.0525,2.0715],[2.0550,2.0470],[2.0575,2.0585],[2.0600,2.0470],[2.0625,2.0715],[2.0650,2.0610],[2.0675,2.0815],[2.0700,2.0520],[2.0725,2.0795],[2.0750,2.0630],[2.0775,2.0765],[2.0800,2.0970],[2.0825,2.0735],[2.0850,2.0880],[2.0875,2.0725],[2.0900,2.1010],[2.0925,2.0865],
[2.0950,2.0990],[2.0975,2.0885],[2.1000,2.1130],[2.1025,2.0855],[2.1050,2.1110],[2.1075,2.1045],[2.1100,2.1280],[2.1125,2.1055],[2.1150,2.1250],[2.1175,2.1035],[2.1200,2.1220],[2.1225,2.1115],[2.1250,2.1400],[2.1275,2.1225],[2.1300,2.1380],[2.1325,2.1135],[2.1350,2.1330],[2.1375,2.1495],[2.1400,2.1300],[2.1425,2.1475],[2.1450,2.1290],[2.1475,2.1665],[2.1500,2.1420],[2.1525,2.1535],[2.1550,2.1420],[2.1575,2.1665],[2.1600,2.1560],[2.1625,2.1765],[2.1650,2.1470],[2.1675,2.1745],[2.1700,2.1580],[2.1725,2.1715],[2.1750,2.1920],[2.1775,2.1685],[2.1800,2.1830],[2.1825,2.1675],[2.1850,2.1960],[2.1875,2.1815],[2.1900,2.1940],[2.1925,2.1835],[2.1950,2.2080],[2.1975,2.1805],[2.2000,2.2060],
[2.002,2.026],[2.006,1.978],[2.010,2.029],[2.014,1.992],[2.018,2.048],[2.022,1.997],[2.026,2.047],[2.030,2.000],[2.034,2.061],[2.038,2.018],[2.042,2.068],[2.046,2.022],[2.050,2.074],[2.054,2.026],[2.058,2.077],[2.062,2.040],[2.066,2.096],[2.070,2.045],[2.074,2.095],[2.078,2.048],[2.082,2.109],[2.086,2.066],[2.090,2.116],[2.094,2.070],[2.098,2.122],[2.102,2.074],[2.106,2.125],[2.110,2.088],[2.114,2.144],[2.118,2.093],[2.122,2.143],[2.126,2.096],[2.130,2.157],[2.134,2.114],[2.138,2.164],[2.142,2.118],[2.146,2.170],[2.150,2.122],[2.154,2.173],[2.158,2.136],[2.162,2.192],[2.166,2.141],[2.170,2.191],[2.174,2.144],[2.178,2.205],[2.182,2.162],[2.186,2.212],[2.190,2.166],[2.194,2.214],[2.198,2.178],
[1.958,2.030],[1.963,2.035],[1.967,2.024],[1.971,2.040],[1.974,2.019],[1.977,2.031],[1.981,2.038],[1.983,2.015],[1.986,2.041],[1.988,2.022],[1.979,2.003],[1.985,1.998],[1.990,2.034],[1.993,2.047],[1.996,2.052],[1.999,2.060],[2.003,2.045],[2.006,2.058],[1.976,1.985],[1.966,1.994],[1.969,2.008],[1.990,1.975],[1.994,1.983],[2.010,1.985],[2.022,1.990],[2.033,1.999],[2.040,2.005],[2.012,1.972],[2.006,1.969],
[2.040,2.090],[2.050,2.100],[2.060,2.105],[2.075,2.125],[2.090,2.140],[2.110,2.160],[2.125,2.175],[2.145,2.190],[2.160,2.200],[2.060,2.015],[2.075,2.030],[2.090,2.045],[2.105,2.060],[2.120,2.075],[2.135,2.090],[2.150,2.105],[2.165,2.120],[2.180,2.140],[2.195,2.155],[2.045,2.000],[2.085,2.135],[2.115,2.065],[2.140,2.100],[2.175,2.215],[2.190,2.230],[2.055,2.095],
[1.918,1.964],[1.957,2.042],[1.975,2.044],[1.989,2.046],[1.960,2.022],[1.962,1.992],[1.965,2.004],[1.997,1.966],[2.004,1.977],[2.019,1.986],[2.026,1.980],[2.001,2.068],[2.014,2.092],[2.027,2.100],[2.126,2.205],[2.070,2.144],[2.255,2.270],[2.215,2.239],[2.239,2.241],[2.234,2.226],[2.229,2.221],[2.144,2.073],[2.139,2.071],[2.087,2.017],[2.114,2.044],[2.183,2.125],[2.188,2.130],[2.161,2.204],[2.151,2.192],[2.140,2.187],[2.163,2.188],[2.205,2.160],[2.220,2.197],[1.992,1.992],[1.999,1.997],[2.016,2.004],[2.031,2.011],[2.046,1.997],[2.055,2.012],[1.970,2.030],[1.978,2.012],[1.984,2.028],[1.968,2.014],[1.980,1.996],[1.972,1.988],[2.008,2.055],[2.035,2.080],[2.060,2.110],[2.098,2.150],[2.100,2.045],[2.130,2.085],[2.170,2.125],[2.200,2.165]
];

// ---- axes ----
const suRange = [60, 180];
const suTicks = [70, 90, 110, 130, 150, 170];
const tauRange = [20, 355];
const tauTicks = [30, 50, 100, 350];
const tauMinorTicks = [40, 60, 70, 80, 90, 200, 300];
const xcoRange = [1.90, 2.30];
const xcoTicks = [1.95, 2.05, 2.15, 2.25];

// ---- error metrics (max, 95th percentile, mean), in % ----
const errActive = [[5.71, 1.2, 0.42], [13.09, 3.17, 1.14], [0.4, 0.12, 0.04]];
const errAll = [[12.3, 6.4, 2.66], [45.24, 21.78, 8.63], [4.29, 2.09, 0.84]];

const FONT = '"DejaVu Sans", "Noto Sans", sans-serif';
const BLUE = '#1E88E5';

const scales = {
  su:  {type: 'value', range: suRange,  ticks: suTicks,  minor: null, fmt: v => String(Math.round(v))},
  tau: {type: 'log',   range: tauRange, ticks: tauTicks, minor: tauMinorTicks, fmt: v => String(Math.round(v))},
  xco: {type: 'value', range: xcoRange, ticks: xcoTicks, minor: null, fmt: v => Number(v).toFixed(2)}
};

const boxes = [
  {left: 105, top: 42, width: 272, height: 267},
  {left: 464, top: 42, width: 269, height: 267},
  {left: 822, top: 42, width: 271, height: 267},
  {left: 105, top: 342, width: 272, height: 268},
  {left: 464, top: 342, width: 269, height: 268},
  {left: 822, top: 342, width: 271, height: 268}
];
const panels = [
  {data: suActive,  scale: 'su'},  {data: tauActive, scale: 'tau'}, {data: xcoActive, scale: 'xco'},
  {data: suAll,     scale: 'su'},  {data: tauAll,    scale: 'tau'}, {data: xcoAll,    scale: 'xco'}
];

const grid = [], xAxis = [], yAxis = [], series = [];

function axisSet(sc, gridIndex, dim, showLabels) {
  const position = dim === 'x' ? 'bottom' : 'left';
  const base = {
    type: sc.type, gridIndex, position, min: sc.range[0], max: sc.range[1],
    axisLine: {show: false}, splitLine: {show: false}, minorTick: {show: false}, minorSplitLine: {show: false}
  };
  if (sc.type === 'log') base.logBase = 10;
  const main = Object.assign({}, base, {
    axisTick: {show: true, inside: false, length: 6, customValues: sc.ticks, lineStyle: {color: '#000', width: 1.2}},
    axisLabel: {show: showLabels, customValues: sc.ticks, formatter: sc.fmt, color: '#000',
                fontSize: 19, fontFamily: FONT, margin: dim === 'x' ? 11 : 8}
  });
  const out = [main];
  if (sc.minor) {
    out.push(Object.assign({}, base, {
      axisTick: {show: true, inside: false, length: 3.5, customValues: sc.minor, lineStyle: {color: '#000', width: 1}},
      axisLabel: {show: false}
    }));
  }
  return out;
}

panels.forEach((p, i) => {
  const sc = scales[p.scale];
  const row = Math.floor(i / 3);
  grid.push(Object.assign({show: true, borderColor: '#000', borderWidth: 1.3, backgroundColor: 'transparent', containLabel: false}, boxes[i]));
  const xi = xAxis.length;
  axisSet(sc, i, 'x', row === 1).forEach(a => xAxis.push(a));
  const yi = yAxis.length;
  axisSet(sc, i, 'y', true).forEach(a => yAxis.push(a));
  series.push({
    type: 'scatter', xAxisIndex: xi, yAxisIndex: yi, data: p.data,
    symbol: 'circle', symbolSize: 6.6, silent: true, z: 2, large: false,
    itemStyle: {color: 'rgba(0,0,0,0)', borderColor: BLUE, borderWidth: 1.7, opacity: 1}
  });
  const lo = sc.range[0], hi = sc.range[1];
  series.push({
    type: 'line', xAxisIndex: xi, yAxisIndex: yi, data: [[lo, lo], [hi, hi]],
    symbol: 'none', silent: true, z: 5,
    lineStyle: {color: '#000', width: 2.2, type: [8, 4.5]}
  });
});

// ---- rich text blocks ----
const rich = {
  n:  {fontSize: 19, fontFamily: FONT, fontWeight: 'normal', color: '#000', lineHeight: 25},
  i:  {fontSize: 19, fontFamily: FONT, fontWeight: 'normal', fontStyle: 'italic', color: '#000', lineHeight: 25},
  s:  {fontSize: 14, fontFamily: FONT, fontWeight: 'normal', color: '#000', lineHeight: 13, verticalAlign: 'bottom'},
  tn: {fontSize: 22, fontFamily: FONT, fontWeight: 'normal', color: '#000', lineHeight: 28},
  ti: {fontSize: 22, fontFamily: FONT, fontWeight: 'normal', fontStyle: 'italic', color: '#000', lineHeight: 28},
  ts: {fontSize: 15.5, fontFamily: FONT, fontWeight: 'normal', color: '#000', lineHeight: 16, verticalAlign: 'bottom'},
  tsi:{fontSize: 15.5, fontFamily: FONT, fontWeight: 'normal', fontStyle: 'italic', color: '#000', lineHeight: 16, verticalAlign: 'bottom'}
};

const conditions = [
  '{n|C}{s|2}{n|H}{s|2}{n| / air}\n{i|T}{n| = 298 K}\n{i|p}{n| = 1 atm}\n{i|ϕ}{n| = 1.0}',
  '{n|C}{s|2}{n|H}{s|4}{n| / O}{s|2}{n| / 94.73% Ar}\n{i|T}{s|5}{n| = 1303 K}\n{i|p}{s|5}{n| = 15.8 atm}\n{i|ϕ}{n| = 1.0}',
  '{n|C}{s|2}{n|H}{s|4}{n| / O}{s|2}{n| / 94.73% Ar}\n{i|T}{s|5}{n| = 1303 K}\n{i|p}{s|5}{n| = 15.8 atm}\n{i|ϕ}{n| = 1.0}'
];
const condLeft = [119, 478, 836];
const errLeft = [233, 592, 950];

function errText(e) {
  return '{i|ε}{s|max}{n| = ' + e[0] + '%}\n{i|ε}{s|95%}{n| = ' + e[1] + '%}\n{i|ε}{s|mean}{n| = ' + e[2] + '%}';
}

const title = [];
function block(text, left, top) {
  title.push({text, left, top, padding: 0, itemGap: 0,
    textStyle: {fontSize: 19, fontFamily: FONT, fontWeight: 'normal', color: '#000', lineHeight: 25, rich}});
}
conditions.forEach((t, c) => block(t, condLeft[c], 49));
errActive.forEach((e, c) => block(errText(e), errLeft[c], 233));
errAll.forEach((e, c) => block(errText(e), errLeft[c], 533));
// column headings
block('{ti|τ}{tsi|ign}{tn| (}{ti|μs}{tn|)}', 553, 7);
block('{tn|Max }{ti|X}{ts|CO}{tn| (%)}', 888, 7);

const txt = (text, x, y, size, extra) => Object.assign({
  type: 'text', x, y, silent: true,
  style: {text, fill: '#000', font: size + 'px ' + FONT, textAlign: 'center', textVerticalAlign: 'middle'}
}, extra || {});

const graphic = [
  // S_u^o heading with stacked scripts
  {type: 'text', x: 186, y: 21, silent: true, style: {text: 'S', fill: '#000', font: 'italic 22px ' + FONT, textAlign: 'left', textVerticalAlign: 'middle'}},
  {type: 'text', x: 198, y: 14, silent: true, style: {text: 'o', fill: '#000', font: 'italic 14px ' + FONT, textAlign: 'left', textVerticalAlign: 'middle'}},
  {type: 'text', x: 197, y: 29, silent: true, style: {text: 'u', fill: '#000', font: 'italic 14px ' + FONT, textAlign: 'left', textVerticalAlign: 'middle'}},
  {type: 'text', x: 213, y: 21, silent: true, style: {text: '(cm/s)', fill: '#000', font: '22px ' + FONT, textAlign: 'left', textVerticalAlign: 'middle'}},
  txt('Polynomial Response Surface', 22, 330, 29, {rotation: Math.PI / 2}),
  txt('Computer Experiment', 578, 664, 27.5),
  txt('Active Parameters Only', 1121, 175, 22.5, {rotation: -Math.PI / 2}),
  txt('All Parameters', 1121, 476, 22.5, {rotation: -Math.PI / 2})
];

const chart = echarts.init(document.getElementById('chart'), null, {renderer: 'canvas'});
chart.setOption({
  backgroundColor: '#fff',
  animation: false,
  title, grid, xAxis, yAxis, series, graphic
});
</script>
</body>
</html>
